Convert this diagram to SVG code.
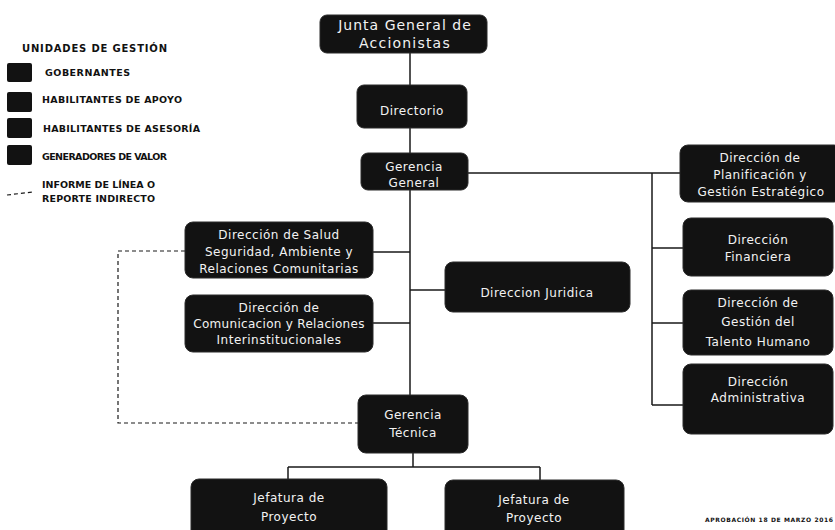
<svg xmlns="http://www.w3.org/2000/svg" width="835" height="530" viewBox="0 0 835 530">
<style>
.node{fill:#121212;stroke:#2a2a2a;stroke-width:1}
.t{fill:#f2f2f2;font-family:"DejaVu Sans",sans-serif;font-size:12px;letter-spacing:0.5px;text-anchor:middle}
.lg{fill:#111;font-family:"DejaVu Sans",sans-serif;font-weight:bold;font-size:9.5px}
.ln{fill:none;stroke:#1a1a1a;stroke-width:1.5}
.dash{fill:none;stroke:#1a1a1a;stroke-width:1.2;stroke-dasharray:4 3}
.key{fill:#121212}
</style>
<rect width="835" height="530" fill="#ffffff"/>
<g id="legend">
<text class="lg" x="22" y="52" style="font-size:10px" textLength="145">UNIDADES  DE  GESTIÓN</text>
<rect class="key" x="7" y="63" width="25" height="19" rx="2"/>
<text class="lg" x="45" y="76" textLength="85">GOBERNANTES</text>
<rect class="key" x="7" y="92" width="25" height="20" rx="2"/>
<text class="lg" x="42" y="103" textLength="140">HABILITANTES DE APOYO</text>
<rect class="key" x="7" y="118" width="25" height="20" rx="2"/>
<text class="lg" x="43" y="132" textLength="157">HABILITANTES  DE ASESORÍA</text>
<rect class="key" x="7" y="145" width="25" height="20" rx="2"/>
<text class="lg" x="42" y="160" textLength="125">GENERADORES DE VALOR</text>
<path class="dash" d="M7 195 L33 192"/>
<text class="lg" x="42" y="188" textLength="113">INFORME DE LÍNEA O</text>
<text class="lg" x="42" y="202" textLength="113">REPORTE INDIRECTO</text>
</g>
<g id="connectors">
<path class="ln" d="M410 53 V85 M410 128 V153 M410 190 V395"/>
<path class="ln" d="M468 173 H652 M652 173 V405 M652 173 H680 M652 248 H683 M652 323 H683 M652 405 H683"/>
<path class="ln" d="M373 252 H410 M373 323 H410 M410 290 H445"/>
<path class="ln" d="M413 453 V467 M288 467 H540 M288 467 V479 M540 467 V480"/>
<path class="dash" d="M185 251 H118 V423 H358"/>
</g>
<g id="junta"><rect class="node" x="320" y="15" width="167" height="38" rx="7"/>
<text class="t" x="405" y="30" style="font-size:14px;letter-spacing:1px">Junta General de</text>
<text class="t" x="405" y="48" style="font-size:14px;letter-spacing:1.2px">Accionistas</text></g>
<g id="directorio"><rect class="node" x="357" y="85" width="110" height="43" rx="7"/>
<text class="t" x="412" y="115">Directorio</text></g>
<g id="gerencia-general"><rect class="node" x="361" y="153" width="107" height="37" rx="7"/>
<text class="t" x="414" y="171">Gerencia</text>
<text class="t" x="414" y="187">General</text></g>
<g id="planificacion"><rect class="node" x="680" y="145" width="162" height="57" rx="8"/>
<text class="t" x="760" y="162">Dirección de</text>
<text class="t" x="760" y="179">Planificación y</text>
<text class="t" x="761" y="196">Gestión Estratégico</text></g>
<g id="financiera"><rect class="node" x="683" y="218" width="150" height="58" rx="8"/>
<text class="t" x="758" y="244">Dirección</text>
<text class="t" x="758" y="261">Financiera</text></g>
<g id="talento"><rect class="node" x="683" y="290" width="150" height="65" rx="8"/>
<text class="t" x="758" y="307">Dirección  de</text>
<text class="t" x="758" y="326">Gestión del</text>
<text class="t" x="758" y="346">Talento Humano</text></g>
<g id="administrativa"><rect class="node" x="683" y="364" width="150" height="70" rx="8"/>
<text class="t" x="758" y="386">Dirección</text>
<text class="t" x="758" y="402">Administrativa</text></g>
<g id="salud"><rect class="node" x="185" y="222" width="188" height="56" rx="8"/>
<text class="t" x="279" y="239">Dirección de Salud</text>
<text class="t" x="279" y="256">Seguridad, Ambiente y</text>
<text class="t" x="279" y="273">Relaciones Comunitarias</text></g>
<g id="comunicacion"><rect class="node" x="185" y="295" width="188" height="57" rx="8"/>
<text class="t" x="279" y="312">Dirección de</text>
<text class="t" x="279" y="328" style="letter-spacing:0.3px">Comunicacion y Relaciones</text>
<text class="t" x="279" y="344">Interinstitucionales</text></g>
<g id="juridica"><rect class="node" x="445" y="262" width="185" height="50" rx="8"/>
<text class="t" x="537" y="297">Direccion Juridica</text></g>
<g id="gerencia-tecnica"><rect class="node" x="358" y="395" width="110" height="58" rx="8"/>
<text class="t" x="413" y="419">Gerencia</text>
<text class="t" x="413" y="437">Técnica</text></g>
<g id="jefatura1"><rect class="node" x="191" y="479" width="196" height="60" rx="8"/>
<text class="t" x="289" y="502">Jefatura de</text>
<text class="t" x="289" y="521">Proyecto</text></g>
<g id="jefatura2"><rect class="node" x="445" y="480" width="179" height="60" rx="8"/>
<text class="t" x="534" y="504">Jefatura de</text>
<text class="t" x="534" y="522">Proyecto</text></g>
<text class="lg" x="705" y="522" style="font-size:6px" textLength="128">APROBACIÓN 18 DE MARZO 2016</text>
</svg>
